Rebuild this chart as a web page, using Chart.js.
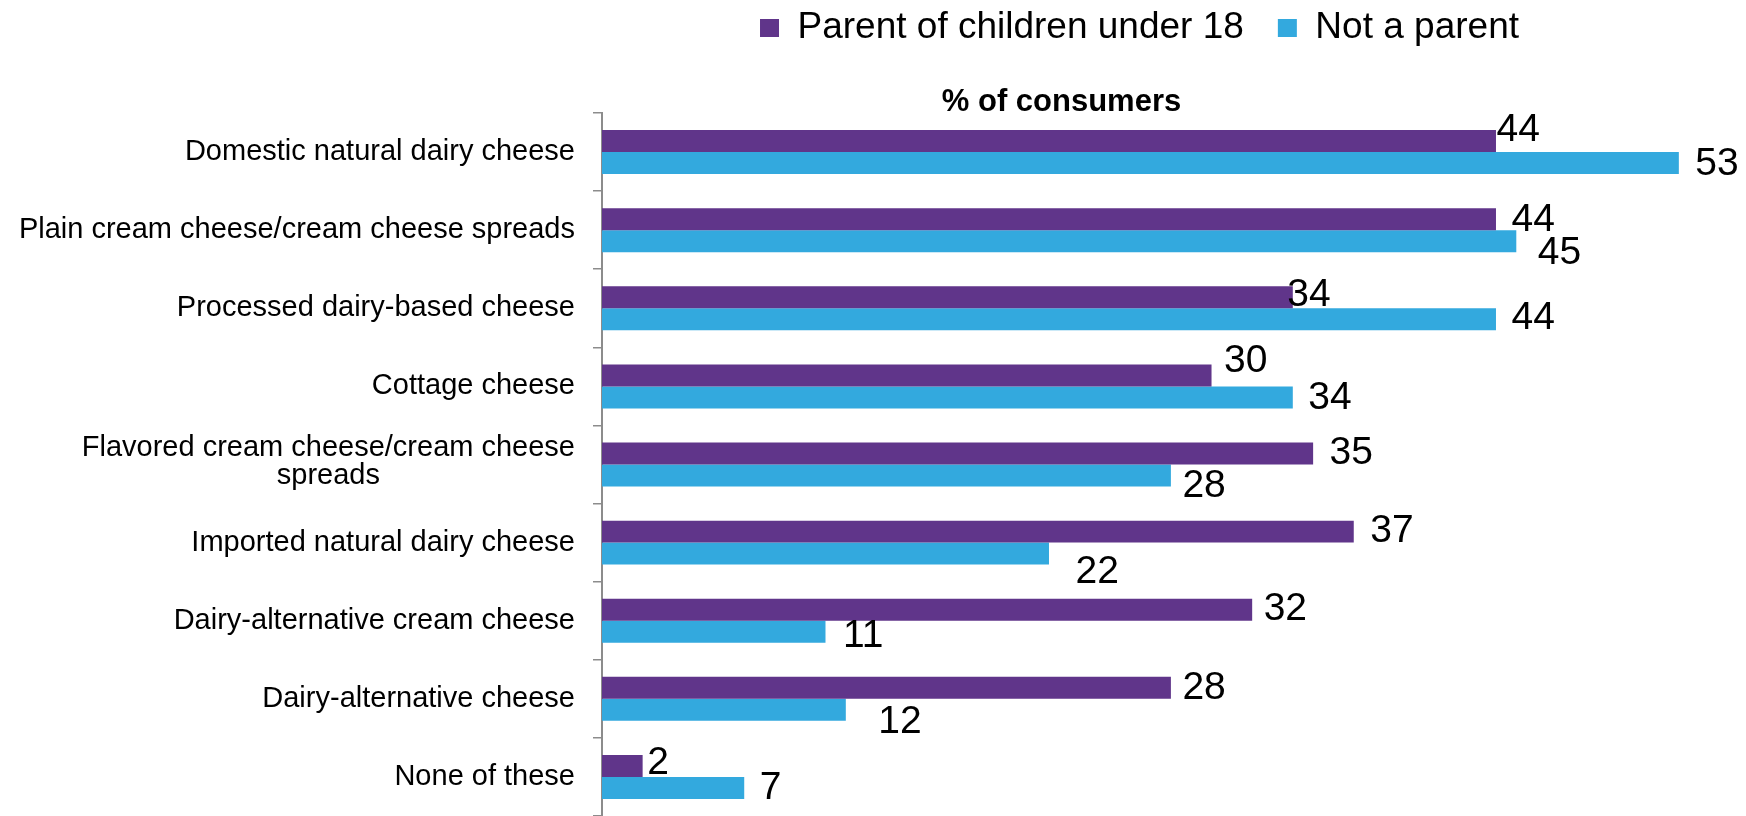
<!DOCTYPE html>
<html>
<head>
<meta charset="utf-8">
<script src="https://cdn.jsdelivr.net/npm/chart.js@4.4.1/dist/chart.umd.min.js"></script>
<style>
  html, body { margin: 0; padding: 0; background: #fff; }
  #wrap { width: 1746px; height: 816px; }
</style>
</head>
<body>
<div id="wrap"><canvas id="chart"></canvas></div>
<script>
var categories = [
  'Domestic natural dairy cheese',
  'Plain cream cheese/cream cheese spreads',
  'Processed dairy-based cheese',
  'Cottage cheese',
  ['Flavored cream cheese/cream cheese', 'spreads'],
  'Imported natural dairy cheese',
  'Dairy-alternative cream cheese',
  'Dairy-alternative cheese',
  'None of these'
];
var parents = [44, 44, 34, 30, 35, 37, 32, 28, 2];
var nonParents = [53, 45, 44, 34, 28, 22, 11, 12, 7];
var seriesNames = ['Parent of children under 18', 'Not a parent'];
var axisTitle = '% of consumers';

var PURPLE = '#60358A';
var BLUE = '#33A9DE';
var FONT = '"Liberation Sans", Arial, sans-serif';

// [dx, dy] per value label, pushed apart where two labels would collide
var labelNudge = [
  [[2, -11], [17, 1], [-4, -2], [14, -14], [18, 0], [18, 0], [13, 0], [13, 0], [6, -3]],
  [[18, 1], [23, 12], [17, -1], [17, 1], [13, 11], [28, 19], [19, 5], [34, 12], [17, 0]]
];

Chart.defaults.font.family = FONT;
Chart.defaults.color = '#000';

// category names: block right aligned, lines centred inside the block
var categoryLabels = {
  id: 'categoryLabels',
  afterDraw: function (chart) {
    var ctx = chart.ctx;
    var yScale = chart.scales.y;
    var right = chart.chartArea.left - 27;
    var lineH = 28;
    ctx.save();
    ctx.font = '29px ' + FONT;
    ctx.fillStyle = '#000';
    ctx.textAlign = 'center';
    ctx.textBaseline = 'middle';
    chart.data.labels.forEach(function (label, i) {
      var lines = [].concat(label);
      var w = Math.max.apply(null, lines.map(function (l) { return ctx.measureText(l).width; }));
      var cy = yScale.getPixelForValue(i);
      // wrapped names sit a little high in their band
      var lift = lines.length > 1 ? 3 : 0;
      lines.forEach(function (line, j) {
        ctx.fillText(line, right - w / 2, cy - lift + (j - (lines.length - 1) / 2) * lineH);
      });
    });
    ctx.restore();
  }
};

var valueLabels = {
  id: 'valueLabels',
  afterDatasetsDraw: function (chart) {
    var ctx = chart.ctx;
    ctx.save();
    ctx.font = '39px ' + FONT;
    ctx.fillStyle = '#000';
    ctx.textAlign = 'left';
    ctx.textBaseline = 'middle';
    chart.data.datasets.forEach(function (ds, d) {
      chart.getDatasetMeta(d).data.forEach(function (bar, i) {
        var n = labelNudge[d][i];
        ctx.fillText(String(ds.data[i]), bar.x + n[0] - 1.5, bar.y + n[1]);
      });
    });
    ctx.restore();
  }
};

// heading sits left of the plot middle, legend a touch left too
var topShift = {
  id: 'topShift',
  afterLayout: function (chart) {
    var t = chart.titleBlock;
    t.left -= 84;
    t.right -= 84;
    var lg = chart.legend;
    lg.left -= 6;
    lg.right -= 6;
  }
};

new Chart(document.getElementById('chart'), {
  type: 'bar',
  data: {
    labels: categories,
    datasets: [
      { label: seriesNames[0], data: parents, backgroundColor: PURPLE },
      { label: seriesNames[1], data: nonParents, backgroundColor: BLUE }
    ]
  },
  options: {
    indexAxis: 'y',
    responsive: true,
    maintainAspectRatio: false,
    animation: false,
    datasets: { bar: { categoryPercentage: 0.563, barPercentage: 1 } },
    layout: { padding: { top: -24.5, right: 57, bottom: 0, left: 0 } },
    scales: {
      x: { display: false, min: 0, max: 53.5 },
      y: {
        grid: { display: true, drawOnChartArea: false, drawTicks: true, tickLength: 9, color: '#8c8c8c', lineWidth: 1.5, offset: true },
        border: { display: true, color: '#8c8c8c', width: 2 },
        ticks: { display: false },
        afterFit: function (scale) { scale.width = 602; }
      }
    },
    plugins: {
      legend: {
        position: 'top',
        fullSize: false,
        align: 'center',
        labels: { boxWidth: 19, boxHeight: 18, padding: 34, color: '#000', font: { size: 37 } }
      },
      title: {
        display: true,
        text: axisTitle,
        fullSize: false,
        weight: 500,
        color: '#000',
        font: { size: 31, weight: 'bold', lineHeight: 0.71 },
        padding: { top: 34.5, bottom: 0 }
      },
      tooltip: { enabled: false }
    }
  },
  plugins: [categoryLabels, valueLabels, topShift]
});
</script>
</body>
</html>
